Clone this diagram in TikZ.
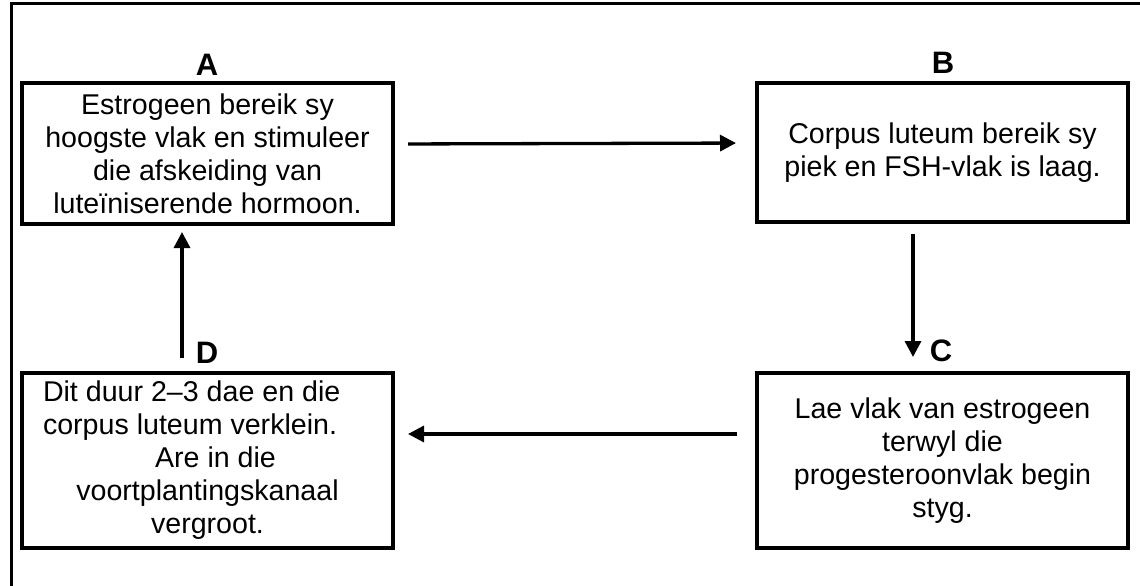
\documentclass[tikz,border=0pt]{standalone}
\usepackage{fontspec}
\setmainfont{Liberation Sans}
\usetikzlibrary{arrows.meta}
\begin{document}
\begin{tikzpicture}[x=1pt,y=1pt,
  box/.style={draw, line width=4pt, inner sep=0pt, align=center,
    font=\fontsize{28.6}{33}\selectfont},
  lbl/.style={anchor=base, font=\fontsize{31}{36}\selectfont\bfseries},
  conn/.style={line width=3.3pt, -{Triangle[length=16pt,width=16pt]}}]
\useasboundingbox (0,0) rectangle (1140,-586);
\draw[line width=3.5pt] (11.5,-586) -- (11.5,-3.5) -- (1141,-3.5);
\node[box, minimum width=371pt, minimum height=141pt] (A) at (207.5,-153.5)
  {Estrogeen bereik sy\\hoogste vlak en stimuleer\\die afskeiding van\\luteïniserende hormoon.};
\node[box, minimum width=371pt, minimum height=139pt] (B) at (942.5,-152.5)
  {Corpus luteum bereik sy\\piek en FSH-vlak is laag.};
\node[box, minimum width=371pt, minimum height=175pt] (C) at (942.5,-460.5)
  {Lae vlak van estrogeen\\terwyl die\\progesteroonvlak begin\\styg.};
\node[box, minimum width=371pt, minimum height=175pt] (D) at (207.5,-460.5)
  {\makebox[329pt][l]{Dit duur 2–3 dae en die}\\\makebox[329pt][l]{corpus luteum verklein.}\\\hspace*{16pt}Are in die\\voortplantingskanaal\\vergroot.};
\node[lbl] (labA) at (207,-75) {A};
\node[lbl] (labB) at (943,-74) {B};
\node[lbl] (labC) at (941,-361) {C};
\node[lbl] (labD) at (207,-363) {D};
\draw[conn, shorten <=13pt, shorten >=19pt] ([yshift=9.5pt]A.east) -- ([yshift=9.5pt]B.west);
\draw[conn, shorten <=10pt, shorten >=14pt] ([xshift=-29.5pt]B.south) -- ([xshift=-29.5pt]C.north);
\draw[conn, shorten <=18pt, shorten >=13pt] ([yshift=26.5pt]C.west) -- ([yshift=26.5pt]D.east);
\draw[conn, shorten <=13pt, shorten >=6pt] ([xshift=-25.5pt]D.north) -- ([xshift=-25.5pt]A.south);
\end{tikzpicture}
\end{document}
